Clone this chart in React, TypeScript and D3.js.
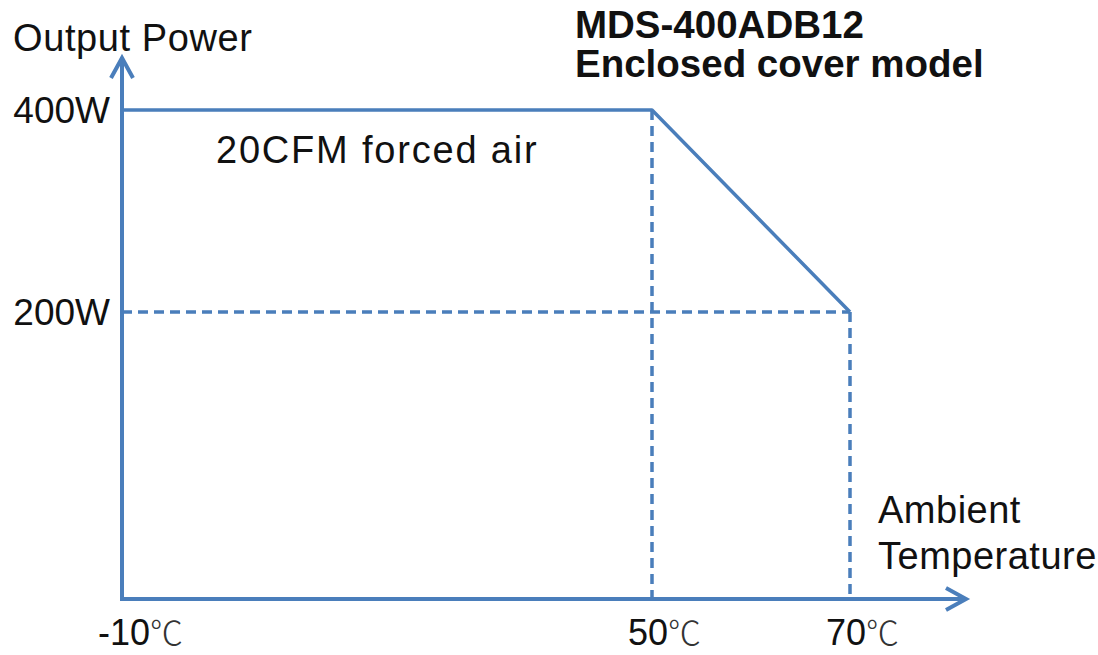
import { useEffect, useRef } from 'react';
import * as d3 from 'd3';

// derating curve
const temps = [-10, 50, 70];
const power = [400, 400, 200];

// axis tick labels
const xTicks = [-10, 50, 70];
const xTickLabels = ['-10', '50', '70'];
const yTicks = [400, 200];
const yTickLabels = ['400W', '200W'];

const titleLines = ['MDS-400ADB12', 'Enclosed cover model'];
const curveLabel = '20CFM forced air';
const xTitle = ['Ambient', 'Temperature'];
const yTitle = 'Output Power';

const BLUE = '#4a7ebb';
const FONT = '"Liberation Sans", Arial, sans-serif';

export default function App() {
  const svgRef = useRef<SVGSVGElement>(null);

  useEffect(() => {
    if (!svgRef.current) return;
    const width = 1098;
    const height = 655;

    const svg = d3.select(svgRef.current);
    svg.selectAll('*').remove();
    svg.attr('width', width).attr('height', height);

    // the picture is not to scale, so both scales are piecewise
    const x = d3.scaleLinear().domain([-10, 50, 70]).range([122, 652, 850]);
    const y = d3.scaleLinear().domain([0, 200, 400]).range([599, 312, 110]);

    const x0 = x(-10);
    const y0 = y(0);
    const xEnd = 966;
    const yEnd = 58;

    const g = svg.append('g');

    // dashed guides
    const dash = '10,6';
    const guide = (x1: number, y1: number, x2: number, y2: number) =>
      g.append('line')
        .attr('x1', x1).attr('y1', y1).attr('x2', x2).attr('y2', y2)
        .attr('stroke', BLUE).attr('stroke-width', 3.5).attr('stroke-dasharray', dash);
    guide(x0, y(200), x(70), y(200));
    guide(x(50), y(400), x(50), y0);
    guide(x(70), y(200), x(70), y0);

    // curve
    const line = d3.line<number>()
      .x((_, i) => x(temps[i]))
      .y(d => y(d));
    g.append('path')
      .datum(power)
      .attr('d', line)
      .attr('fill', 'none')
      .attr('stroke', BLUE)
      .attr('stroke-width', 3.5)
      .attr('stroke-linejoin', 'round');

    // axes
    g.append('path')
      .attr('d', `M${x0},${yEnd + 2}V${y0}H${xEnd - 2}`)
      .attr('fill', 'none')
      .attr('stroke', BLUE)
      .attr('stroke-width', 4);
    g.append('path')
      .attr('d', `M${x0 - 11},${yEnd + 20}L${x0},${yEnd}L${x0 + 11},${yEnd + 20}`)
      .attr('fill', 'none').attr('stroke', BLUE).attr('stroke-width', 4)
      .attr('stroke-linejoin', 'miter');
    g.append('path')
      .attr('d', `M${xEnd - 20},${y0 - 11}L${xEnd},${y0}L${xEnd - 20},${y0 + 11}`)
      .attr('fill', 'none').attr('stroke', BLUE).attr('stroke-width', 4)
      .attr('stroke-linejoin', 'miter');

    const text = (tx: number, ty: number, s: string, opts: { weight?: string; anchor?: string; spacing?: number; size?: number } = {}) =>
      svg.append('text')
        .attr('x', tx).attr('y', ty)
        .attr('font-family', FONT)
        .attr('font-size', opts.size || 38)
        .attr('font-weight', opts.weight || 'normal')
        .attr('text-anchor', opts.anchor || 'start')
        .attr('letter-spacing', opts.spacing || 0)
        .attr('fill', '#111')
        .text(s);

    // y tick labels
    yTicks.forEach((v, i) => {
      text(x0 - 12, y(v) + 13, yTickLabels[i], { anchor: 'end', size: 37 });
    });

    // x tick labels
    xTicks.forEach((v, i) => {
      const t = svg.append('text')
        .attr('x', x(v) - 24).attr('y', 645)
        .attr('font-family', FONT)
        .attr('font-size', 36)
        .attr('fill', '#111');
      t.append('tspan').text(xTickLabels[i]);
      t.append('tspan')
        .attr('font-family', '"Noto Sans CJK SC", sans-serif')
        .attr('font-weight', 300)
        .attr('font-size', 33)
        .attr('fill', '#333')
        .text('℃');
    });

    text(13, 51, yTitle, { spacing: 0.6 });
    text(878, 523, xTitle[0], { spacing: 0.5 });
    text(878, 569, xTitle[1], { spacing: 0.5 });
    text(216, 163, curveLabel, { spacing: 1.8 });
    text(575, 38, titleLines[0], { weight: 'bold', size: 38.5 });
    text(575, 77, titleLines[1], { weight: 'bold', size: 38.5 });
  }, []);

  return <svg ref={svgRef} style={{ display: 'block', position: 'absolute', left: 0, top: 0 }}></svg>;
}
